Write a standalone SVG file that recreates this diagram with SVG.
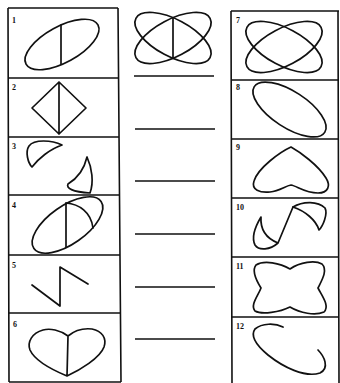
<svg xmlns="http://www.w3.org/2000/svg" width="340" height="383" viewBox="0 0 340 383">
<style>
.s{fill:none;stroke:#111;stroke-width:1.7;stroke-linejoin:round;stroke-linecap:round}
.f{fill:none;stroke:#111;stroke-width:1.6}
.n{font-family:"Liberation Serif",serif;font-weight:bold;font-size:8px;fill:#111}
</style>
<rect width="340" height="383" fill="#fff"/>
<g id="frame">
<path class="f" d="M8,8 L118,8 M8,78 L118,78 M8,137 L119,137 M8,195 L119,195 M9,255 L120,255 M9,313 L120,313 M9,382 L121,382 M8,8 L9,382 M118,8 L121,382"/>
<path class="f" d="M231,11 L339,11 M231,80 L339,80 M231,139 L339,139 M231,198 L339,198 M232,257 L339,257 M232,317 L339,317 M231,11 L232,383 M338,11 L339,383"/>
</g>
<g id="answer-lines">
<path class="f" d="M134,76 L214,76 M135,129 L215,129 M135,181 L215,181 M135,234 L215,234 M135,287 L215,287 M135,339 L215,339"/>
</g>
<g id="target">
<ellipse class="s" cx="173" cy="38" rx="42" ry="18.5" transform="rotate(-28 173 38)"/>
<ellipse class="s" cx="173" cy="38" rx="42" ry="18.5" transform="rotate(28 173 38)"/>
<line class="s" x1="173" y1="18" x2="173" y2="58"/>
</g>
<g id="fig1">
<text class="n" x="12" y="23">1</text>
<ellipse class="s" cx="62" cy="44.5" rx="41" ry="18" transform="rotate(-28.7 62 44.5)"/>
<line class="s" x1="61" y1="25" x2="61" y2="64"/>
</g>
<g id="fig2">
<text class="n" x="12" y="90">2</text>
<path class="s" d="M59,82 L86,108 L59,134 L32,108 Z M59,82 L59,134"/>
</g>
<g id="fig3">
<text class="n" x="12" y="149">3</text>
<path class="s" d="M62,145 C52,140 34,139 29,146 C25,152 28,163 32,167 C38,159 50,149 62,145 Z"/>
<path class="s" d="M87,157 C84,170 78,178 68,184 C66,188 72,192 90,193 C94,182 92,168 87,157 Z"/>
</g>
<g id="fig4">
<text class="n" x="12" y="208">4</text>
<ellipse class="s" cx="67.5" cy="225" rx="41" ry="19" transform="rotate(-35 67.5 225)"/>
<line class="s" x1="66" y1="203" x2="66" y2="247"/>
<path class="s" d="M66,203 C79,204 91,212 93,228"/>
</g>
<g id="fig5">
<text class="n" x="12" y="268">5</text>
<path class="s" d="M32,285 L60,306 L60,267 L88,284"/>
</g>
<g id="fig6">
<text class="n" x="13" y="327">6</text>
<path class="s" d="M68,336 C60,330 50,328 43,330 C32,333 27,342 30,350 C35,361 55,371 67,376 C80,370 100,358 104,347 C107,338 102,331 92,329 C83,328 74,331 68,336 Z M68,336 L67,376"/>
</g>
<g id="fig7">
<text class="n" x="236" y="23">7</text>
<ellipse class="s" cx="284" cy="47" rx="42" ry="18.5" transform="rotate(-28 284 47)"/>
<ellipse class="s" cx="284" cy="47" rx="42" ry="18.5" transform="rotate(28 284 47)"/>
</g>
<g id="fig8">
<text class="n" x="236" y="90">8</text>
<ellipse class="s" cx="289.5" cy="109.5" rx="42" ry="18" transform="rotate(33 289.5 109.5)"/>
</g>
<g id="fig9">
<text class="n" x="236" y="150">9</text>
<path class="s" d="M291,147 C280,152 258,168 254,181 C251,190 260,193 270,192 C280,191 285,186 291,185 C297,186 305,193 318,193 C328,193 331,186 326,178 C318,165 300,152 291,147 Z"/>
</g>
<g id="fig10">
<text class="n" x="236" y="210">10</text>
<path class="s" d="M261,217 C255,227 251,237 255,245 C259,251 270,250 278,243 C268,239 260,232 261,217 Z M278,243 L293,207"/>
<path class="s" d="M293,207 C303,201 318,201 325,208 C328,214 323,226 319,230 C316,220 305,211 293,207 Z"/>
</g>
<g id="fig11">
<text class="n" x="236" y="269">11</text>
<path class="s" d="M290,269 C300,262 315,260 322,264 C328,270 322,280 318,288 C322,296 330,306 324,312 C315,316 300,313 290,307 C280,312 262,315 255,311 C250,305 258,296 261,288 C256,280 252,270 256,265 C264,260 280,263 290,269 Z"/>
</g>
<g id="fig12">
<text class="n" x="236" y="329">12</text>
<path class="s" d="M283,327 C275,323 262,323 255,329 C250,336 256,345 268,355 C283,367 305,378 320,373 C330,368 324,356 318,350"/>
</g>
</svg>
